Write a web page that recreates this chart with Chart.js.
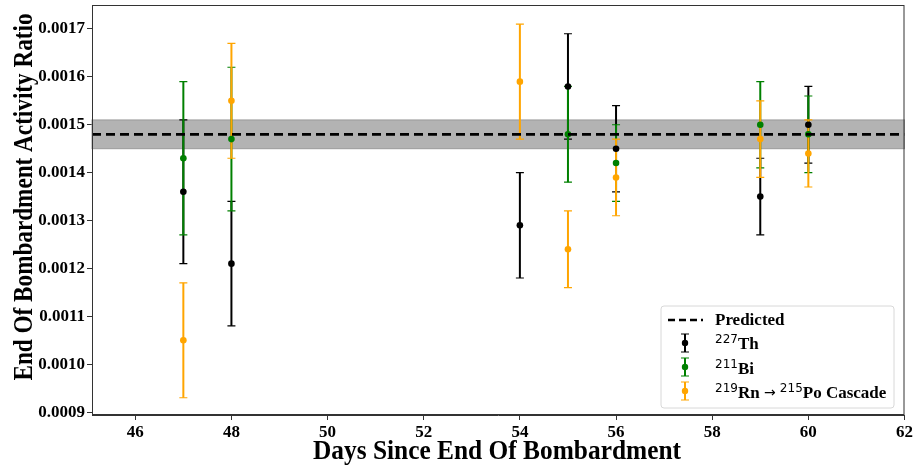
<!DOCTYPE html>
<html>
<head>
<meta charset="utf-8">
<script src="https://cdn.jsdelivr.net/npm/chart.js@4/dist/chart.umd.min.js"></script>
<style>
  html, body { margin: 0; padding: 0; background: #fff; }
  #wrap { width: 915px; height: 468px; position: relative; }
</style>
</head>
<body>
<div id="wrap"><canvas id="chart" width="915" height="468"></canvas></div>
<script>
// days of the measurements
const days = [47, 48, 54, 55, 56, 59, 60];

// 227Th
const thVal = [0.00136, 0.00121, 0.00129, 0.00158, 0.00145, 0.00135, 0.00150];
const thErr = [0.00015, 0.00013, 0.00011, 0.00011, 0.00009, 0.00008, 0.00008];

// 211Bi (no visible point on day 54)
const biVal = [0.00143, 0.00147, null, 0.00148, 0.00142, 0.00150, 0.00148];
const biErr = [0.00016, 0.00015, null, 0.00010, 0.00008, 0.00009, 0.00008];

// 219Rn -> 215Po cascade
const rnVal = [0.00105, 0.00155, 0.00159, 0.00124, 0.00139, 0.00147, 0.00144];
const rnErr = [0.00012, 0.00012, 0.00012, 0.00008, 0.00008, 0.00008, 0.00007];

// predicted ratio and its band
const predicted = 0.00148;
const predLow = 0.00145;
const predHigh = 0.00151;

const xTicks = [46, 48, 50, 52, 54, 56, 58, 60, 62];
const yTicks = [0.0009, 0.0010, 0.0011, 0.0012, 0.0013, 0.0014, 0.0015, 0.0016, 0.0017];
const xMin = 45.1, xMax = 62;
const yMin = 0.000894, yMax = 0.00175;

const xTitle = "Days Since End Of Bombardment";
const yTitle = "End Of Bombardment Activity Ratio";

const serif = "'Liberation Serif', 'Times New Roman', serif";

const toPoints = (vals, errs) =>
  days.map((d, i) => (vals[i] == null ? null : { x: d, y: vals[i], err: errs[i] })).filter(Boolean);

// draws text squeezed to a given length along its direction
const fitText = (ctx, txt, len) => {
  const w = ctx.measureText(txt).width;
  ctx.scale(len / w, 1);
  ctx.fillText(txt, -w / 2, 0);
};

// 📊 band, error bars, frame, titles and legend
const errorBars = {
  id: "errorBars",
  beforeDatasetsDraw(chart) {
    const { ctx, chartArea, scales } = chart;
    const x = scales.x, y = scales.y;
    ctx.save();
    // gray band of the prediction
    const yt = y.getPixelForValue(predHigh), yb = y.getPixelForValue(predLow);
    ctx.fillStyle = "#b3b3b3";
    ctx.fillRect(chartArea.left, yt, chartArea.right - chartArea.left, yb - yt);
    ctx.strokeStyle = "#9a9a9a";
    ctx.lineWidth = 1;
    ctx.strokeRect(chartArea.left, yt, chartArea.right - chartArea.left, yb - yt);

    chart.data.datasets.forEach((ds) => {
      if (!ds.errorBars) return;
      ds.data.forEach((p) => {
        const px = x.getPixelForValue(p.x);
        const top = y.getPixelForValue(p.y + p.err);
        const bot = y.getPixelForValue(p.y - p.err);
        ctx.strokeStyle = ds.borderColor;
        ctx.lineWidth = 2;
        ctx.beginPath();
        ctx.moveTo(px, top);
        ctx.lineTo(px, bot);
        ctx.stroke();
        ctx.lineWidth = 1.2;
        ctx.beginPath();
        ctx.moveTo(px - 4, top);
        ctx.lineTo(px + 4, top);
        ctx.moveTo(px - 4, bot);
        ctx.lineTo(px + 4, bot);
        ctx.stroke();
      });
    });
    ctx.restore();
  },
  afterDraw(chart) {
    const { ctx, chartArea } = chart;
    ctx.save();
    // frame around the plot
    ctx.strokeStyle = "#333";
    ctx.lineWidth = 1;
    ctx.strokeRect(chartArea.left + 0.5, chartArea.top + 0.5,
      chartArea.right - chartArea.left - 1, chartArea.bottom - chartArea.top - 1);

    // axis titles
    ctx.fillStyle = "#000";
    ctx.textBaseline = "alphabetic";
    ctx.font = "bold 27px " + serif;
    ctx.save();
    ctx.translate(497, 459);
    fitText(ctx, xTitle, 368);
    ctx.restore();
    ctx.save();
    ctx.translate(32, 197);
    ctx.rotate(-Math.PI / 2);
    fitText(ctx, yTitle, 367);
    ctx.restore();

    // 🏷️ legend
    const lx = 661, ly = 306, lw = 233, lh = 102;
    ctx.fillStyle = "rgba(255,255,255,0.85)";
    ctx.strokeStyle = "#d8d8d8";
    ctx.beginPath();
    ctx.roundRect(lx, ly, lw, lh, 3);
    ctx.fill();
    ctx.stroke();

    const sx = 685, tx = 715;
    ctx.strokeStyle = "#000";
    ctx.lineWidth = 2.5;
    ctx.setLineDash([7, 4]);
    ctx.beginPath();
    ctx.moveTo(668, 320);
    ctx.lineTo(703, 320);
    ctx.stroke();
    ctx.setLineDash([]);

    const rows = [
      { y: 343, color: "#000000" },
      { y: 367, color: "#008000" },
      { y: 391, color: "#ffa500" },
    ];
    rows.forEach((r) => {
      ctx.strokeStyle = r.color;
      ctx.fillStyle = r.color;
      ctx.lineWidth = 2;
      ctx.beginPath();
      ctx.moveTo(sx, r.y - 9);
      ctx.lineTo(sx, r.y + 9);
      ctx.stroke();
      ctx.lineWidth = 1.2;
      ctx.beginPath();
      ctx.moveTo(sx - 4, r.y - 9);
      ctx.lineTo(sx + 4, r.y - 9);
      ctx.moveTo(sx - 4, r.y + 9);
      ctx.lineTo(sx + 4, r.y + 9);
      ctx.stroke();
      ctx.beginPath();
      ctx.arc(sx, r.y, 3.2, 0, Math.PI * 2);
      ctx.fill();
    });

    ctx.fillStyle = "#000";
    const big = "bold 17px " + serif;
    const sup = "12px 'DejaVu Sans', sans-serif";
    const arrow = "14px 'DejaVu Sans', sans-serif";
    const drawParts = (parts, x0, yb) => {
      let cx = x0;
      parts.forEach(([txt, kind]) => {
        ctx.font = kind === "sup" ? sup : kind === "arrow" ? arrow : big;
        ctx.fillText(txt, cx, kind === "sup" ? yb - 6 : kind === "arrow" ? yb - 1 : yb);
        cx += ctx.measureText(txt).width;
      });
    };
    drawParts([["Predicted", "n"]], tx, 325);
    drawParts([["227", "sup"], ["Th", "n"]], tx, 349);
    drawParts([["211", "sup"], ["Bi", "n"]], tx, 374);
    drawParts([["219", "sup"], ["Rn ", "n"], ["\u2192", "arrow"], [" ", "n"], ["215", "sup"], ["Po Cascade", "n"]], tx, 398);
    ctx.restore();
  },
};

const pointDs = (label, color, vals, errs) => ({
  type: "scatter",
  label,
  data: toPoints(vals, errs),
  errorBars: true,
  borderColor: color,
  backgroundColor: color,
  pointRadius: 3.3,
  pointHoverRadius: 3.3,
  pointBorderWidth: 0,
});

new Chart(document.getElementById("chart"), {
  type: "scatter",
  data: {
    datasets: [
      {
        type: "line",
        label: "Predicted",
        data: [{ x: xMin, y: predicted }, { x: xMax, y: predicted }],
        borderColor: "#000",
        borderWidth: 2.8,
        borderDash: [9, 5],
        pointRadius: 0,
        fill: false,
      },
      pointDs("227Th", "#000000", thVal, thErr),
      pointDs("211Bi", "#008000", biVal, biErr),
      pointDs("219Rn \u2192 215Po Cascade", "#ffa500", rnVal, rnErr),
    ],
  },
  options: {
    responsive: false,
    animation: false,
    layout: { padding: { top: 5, right: 10, left: 0, bottom: 0 } },
    plugins: {
      legend: { display: false },
      tooltip: { enabled: false },
    },
    scales: {
      x: {
        type: "linear",
        min: xMin,
        max: xMax,
        afterBuildTicks: (s) => { s.ticks = xTicks.map((v) => ({ value: v })); },
        afterFit: (s) => { s.height = 53; },
        grid: { drawOnChartArea: false, tickLength: 5, color: "#333" },
        border: { color: "#333" },
        ticks: {
          color: "#000",
          padding: 2,
          maxRotation: 0,
          font: { family: serif, size: 17, weight: "bold" },
        },
      },
      y: {
        type: "linear",
        min: yMin,
        max: yMax,
        afterBuildTicks: (s) => { s.ticks = yTicks.map((v) => ({ value: v })); },
        afterFit: (s) => { s.width = 92; s.paddingTop = 0; s.paddingBottom = 0; },
        grid: { drawOnChartArea: false, tickLength: 5, color: "#333" },
        border: { color: "#333" },
        ticks: {
          color: "#000",
          padding: 2,
          font: { family: serif, size: 17, weight: "bold" },
          callback: (v) => v.toFixed(4),
        },
      },
    },
  },
  plugins: [errorBars],
});
</script>
</body>
</html>
